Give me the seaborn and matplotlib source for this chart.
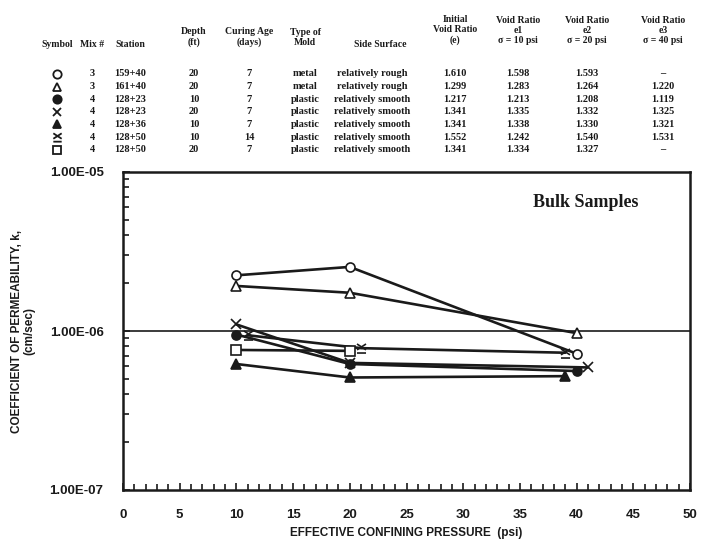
import matplotlib
matplotlib.use("Agg")
from matplotlib import pyplot as plt
from matplotlib.path import Path
from matplotlib.ticker import MultipleLocator, LogLocator, NullFormatter, FixedLocator, FixedFormatter
import seaborn as sns
import pandas as pd

# ---- table above the plot ----
headers = ["Symbol", "Mix #", "Station", "Depth\n(ft)", "Curing Age\n(days)", "Type of\nMold",
           "Side Surface", "Initial\nVoid Ratio\n(e)", "Void Ratio\ne1\nσ = 10 psi",
           "Void Ratio\ne2\nσ = 20 psi", "Void Ratio\ne3\nσ = 40 psi"]
mix = ["3", "3", "4", "4", "4", "4", "4"]
station = ["159+40", "161+40", "128+23", "128+23", "128+36", "128+50", "128+50"]
depth = ["20", "20", "10", "20", "10", "10", "20"]
curing = ["7", "7", "7", "7", "7", "14", "7"]
mold = ["metal", "metal", "plastic", "plastic", "plastic", "plastic", "plastic"]
side = ["relatively rough", "relatively rough"] + ["relatively smooth"] * 5
e0 = ["1.610", "1.299", "1.217", "1.341", "1.341", "1.552", "1.341"]
e1 = ["1.598", "1.283", "1.213", "1.335", "1.338", "1.242", "1.334"]
e2 = ["1.593", "1.264", "1.208", "1.332", "1.330", "1.540", "1.327"]
e3 = ["–", "1.220", "1.119", "1.325", "1.321", "1.531", "–"]

# ---- permeability data (psi, cm/sec) ----
p_open_circle = [10, 20, 40]
k_open_circle = [2.24e-6, 2.53e-6, 0.72e-6]
p_open_tri = [10, 20, 40]
k_open_tri = [1.92e-6, 1.74e-6, 0.97e-6]
p_fill_circle = [10, 20, 40]
k_fill_circle = [0.95e-6, 0.62e-6, 0.56e-6]
p_cross = [10, 20, 41]
k_cross = [1.10e-6, 0.63e-6, 0.59e-6]
p_fill_tri = [10, 20, 39]
k_fill_tri = [0.62e-6, 0.51e-6, 0.52e-6]
p_cross_bar = [11, 21, 39]
k_cross_bar = [0.94e-6, 0.78e-6, 0.73e-6]
p_square = [10, 20]
k_square = [0.76e-6, 0.75e-6]

xbar = Path([(-1, -0.3), (1, 1), (-1, 1), (1, -0.3), (-1, -1), (1, -1)],
            [Path.MOVETO, Path.LINETO] * 3)

series = [
    (p_open_circle, k_open_circle, "o", False),
    (p_open_tri, k_open_tri, "^", False),
    (p_fill_circle, k_fill_circle, "o", True),
    (p_cross, k_cross, "x", False),
    (p_fill_tri, k_fill_tri, "^", True),
    (p_cross_bar, k_cross_bar, xbar, False),
    (p_square, k_square, "s", False),
]

sns.set_style("ticks")
plt.rcParams["font.family"] = ["Liberation Sans", "DejaVu Sans"]
ink = "#1a1a1a"

W, H = 707, 550
fig = plt.figure(figsize=(W / 100, H / 100), dpi=100)

# full-figure overlay in pixel units for the table
tax = fig.add_axes([0, 0, 1, 1])
tax.set_xlim(0, W)
tax.set_ylim(H, 0)
tax.axis("off")

serif = ["Liberation Serif", "DejaVu Serif"]
col_x = [57, 92, 130, 194, 249, 305, 380, 455, 518, 587, 663]
for i, h in enumerate(headers):
    nl = h.count("\n")
    yb = [49, 47, 45][nl]
    tax.text(col_x[i], yb, h, ha="center", va="bottom", family=serif, weight="bold",
             fontsize=7, linespacing=1.15, color=ink)

row_y0, row_dy = 74, 12.6
cols = [mix, station, depth, curing, mold, side, e0, e1, e2, e3]
col_row_x = [92, 130, 194, 249, 305, 372, 455, 518, 587, 663]
for r in range(len(mix)):
    y = row_y0 + r * row_dy
    _, _, m, f = series[r]
    tax.plot([col_x[0]], [y], marker=m, ms=6, color=ink, mec=ink,
             mfc=ink if f else "none", mew=1.3, ls="none")
    for c, vals in enumerate(cols):
        tax.text(col_row_x[c], y, vals[r], ha="center", va="center", family=serif,
                 weight="bold", fontsize=7.5, color=ink)

# ---- main plot ----
ax = fig.add_axes([123 / W, 1 - 490 / H, (690 - 123) / W, (490 - 172) / H])
for px, kv, m, f in series:
    sns.lineplot(x=px, y=kv, ax=ax, color=ink, lw=1.9, marker=m, ms=6.5,
                 mec=ink, mfc=ink if f else "white", mew=1.2)

ax.set_yscale("log")
ax.set_xlim(0, 50)
ax.set_ylim(1e-7, 1e-5)
ax.axhline(1e-6, color=ink, lw=1.2, zorder=1)

ax.xaxis.set_major_locator(MultipleLocator(5))
ax.xaxis.set_minor_locator(MultipleLocator(1))
ax.yaxis.set_major_locator(FixedLocator([1e-7, 1e-6, 1e-5]))
ax.yaxis.set_major_formatter(FixedFormatter(["1.00E-07", "1.00E-06", "1.00E-05"]))
ax.yaxis.set_minor_locator(LogLocator(base=10, subs=range(2, 10)))
ax.yaxis.set_minor_formatter(NullFormatter())
ax.tick_params(axis="both", which="both", direction="in", color=ink, width=1.2)
ax.tick_params(axis="both", which="major", length=5, pad=14, labelsize=9.5, labelcolor=ink)
ax.tick_params(axis="both", which="minor", length=4)
for lab in ax.get_xticklabels() + ax.get_yticklabels():
    lab.set_fontweight("bold")

for s in ax.spines.values():
    s.set_linewidth(1.8)
    s.set_color(ink)

ax.set_xlabel("EFFECTIVE CONFINING PRESSURE  (psi)", fontsize=8.5, weight="bold",
              color=ink, labelpad=4)
ax.set_ylabel("COEFFICIENT OF PERMEABILITY, k,\n(cm/sec)", fontsize=8.5, weight="bold",
              color=ink, labelpad=10, linespacing=1.1)
ax.text(0.817, 0.905, "Bulk Samples", transform=ax.transAxes, ha="center", va="center",
        family=serif, weight="bold", fontsize=13, color=ink)

plt.savefig("out.png", dpi=100)
